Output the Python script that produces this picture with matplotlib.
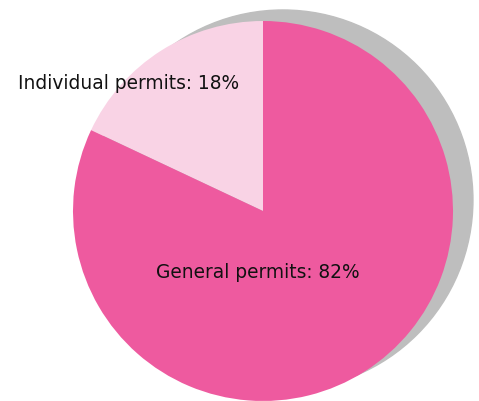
import numpy as np
import matplotlib
matplotlib.use('Agg')
import matplotlib.pyplot as plt
from matplotlib.patches import Circle

# Permit shares
labels = ['Individual permits', 'General permits']
shares = [18, 82]
colors = ['#F9D3E5', '#EE5A9F']

fig = plt.figure(figsize=(4.79, 4.01), dpi=100)
ax = fig.add_axes([0, 0, 1, 1])

# drop shadow behind the pie
ax.add_patch(Circle((0.105, 0.058), 1.0, color='#BEBEBE', zorder=0))

wedges, _ = ax.pie(shares, colors=colors, startangle=90, counterclock=True,
                   radius=1.0, center=(0, 0), frame=True)
for w in wedges:
    w.set_zorder(1)

# labels
ax.text(-0.705, 0.672, f'{labels[0]}: {shares[0]}%', ha='center', va='center',
        fontsize=13.4, family='DejaVu Sans', color='#111111', zorder=3)
ax.text(-0.026, -0.323, f'{labels[1]}: {shares[1]}%', ha='center', va='center',
        fontsize=13.4, family='DejaVu Sans', color='#111111', zorder=3)

ax.set_xlim(-263 / 190, 216 / 190)
ax.set_ylim(-190 / 190, 211 / 190)
ax.set_aspect('auto')
ax.axis('off')

fig.savefig('out.png', dpi=100)
